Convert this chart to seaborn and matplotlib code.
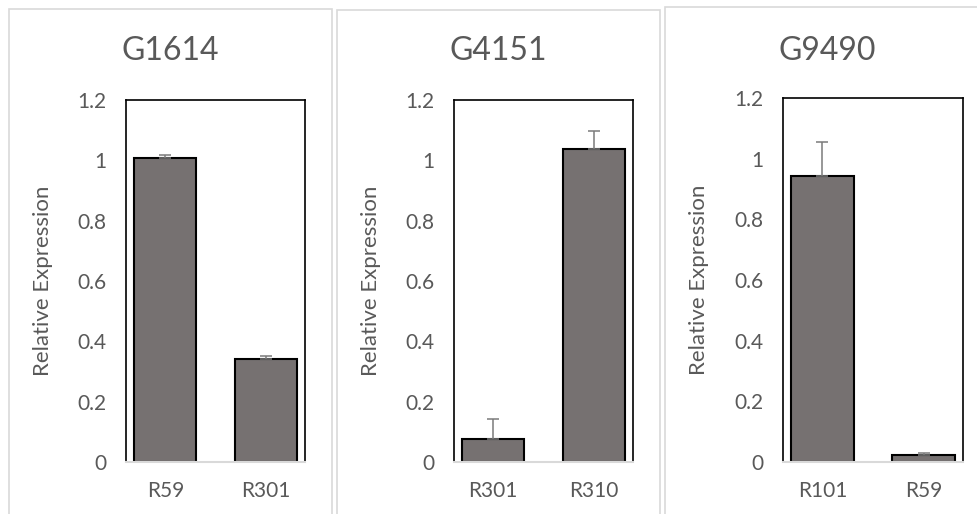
import numpy as np
import pandas as pd
import matplotlib
matplotlib.use("Agg")
import matplotlib.pyplot as plt
import seaborn as sns
from matplotlib.patches import Rectangle

# Data
genes = ["G1614", "G4151", "G9490"]
samples = [["R59", "R301"], ["R301", "R310"], ["R101", "R59"]]
expression = [[1.007, 0.342], [0.077, 1.039], [0.942, 0.022]]
errors = [[0.011, 0.008], [0.067, 0.058], [0.112, 0.007]]

sns.set_style("white")
plt.rcParams['font.family'] = ['Lato', 'DejaVu Sans']

W, H = 977, 514
fig = plt.figure(figsize=(W / 100, H / 100), dpi=100)

bar_color = "#767171"
text_color = "#595959"
frame_grey = "#d9d9d9"

# panel boxes (left, top, right) and plot areas (left, top, right, bottom) in pixels
panels = [(9, 9, 332), (337, 10, 660), (665, 7, 990)]
plot_areas = [(126, 100, 305, 462), (454, 100, 633, 462), (783, 98, 963, 462)]

for i, gene in enumerate(genes):
    pl, pt, pr = panels[i]
    # chart-area border, running off the bottom of the image like the reference
    fig.patches.append(Rectangle((pl / W, -0.1), (pr - pl) / W, 1.1 - pt / H,
                                 transform=fig.transFigure, fill=False,
                                 edgecolor=frame_grey, linewidth=1.2))

    l, t, r, b = plot_areas[i]
    ax = fig.add_axes([l / W, 1 - b / H, (r - l) / W, (b - t) / H])
    df = pd.DataFrame({"Sample": samples[i], "Value": expression[i]})
    sns.barplot(data=df, x="Sample", y="Value", color=bar_color, saturation=1,
                edgecolor="black", linewidth=1.5, width=0.62, errorbar=None, ax=ax)
    ax.errorbar(np.arange(len(samples[i])), expression[i],
                yerr=[np.zeros(len(errors[i])), errors[i]], fmt="none",
                ecolor="#7a7a7a", elinewidth=1.1, capsize=4.0, capthick=1.1)

    ax.set_ylim(0, 1.2)
    ax.set_yticks([0, 0.2, 0.4, 0.6, 0.8, 1.0, 1.2])
    ax.set_yticklabels(["0", "0.2", "0.4", "0.6", "0.8", "1", "1.2"])
    ax.tick_params(axis="both", length=0, colors=text_color, labelsize=15)
    ax.tick_params(axis="y", pad=14)
    ax.tick_params(axis="x", pad=14)
    ax.set_xlabel("")
    ax.set_ylabel("Relative Expression", color=text_color, fontsize=16)
    ax.yaxis.set_label_coords(-0.41, 0.5)
    for side in ["left", "top", "right"]:
        ax.spines[side].set_color("black")
        ax.spines[side].set_linewidth(1.2)
    ax.spines["bottom"].set_color(frame_grey)
    ax.spines["bottom"].set_linewidth(1.5)

    fig.text((pl + pr) / 2 / W, 1 - 51 / H, gene, ha="center", va="center",
             fontsize=23, color=text_color)

fig.savefig("out.png", dpi=100)
